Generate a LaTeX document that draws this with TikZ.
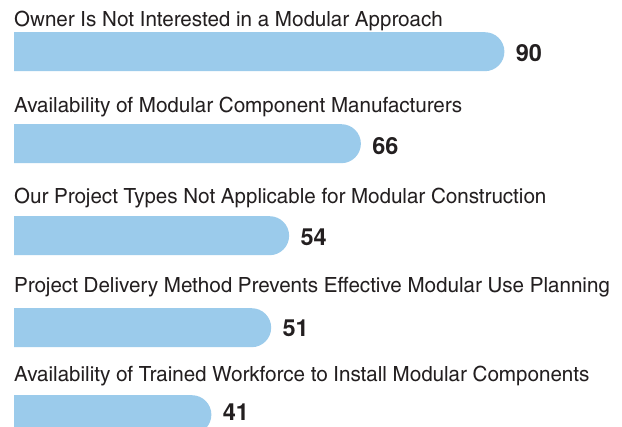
\documentclass[tikz,border=0pt]{standalone}
\usepackage{fontspec}
\setmainfont{TeX Gyre Heros}
\newfontfamily\condfont[FakeStretch=1.2]{TeX Gyre Heros Cn}
\definecolor{mybarblue}{RGB}{155,203,235}
\definecolor{mytextgray}{RGB}{35,31,32}
\usetikzlibrary{positioning,shapes.misc}

\begin{document}
\begin{tikzpicture}[
  x=1pt,
  y=-1pt,
  mybar/.style={
    fill=mybarblue,
    rounded rectangle,
    rounded rectangle left arc=none,
    minimum height=39pt,
    minimum width=#1,
    inner sep=0pt,
    anchor=north west
    },
  mytitle/.style={
    anchor=base west,
    inner sep=0pt,
    text=mytextgray,
    font=\condfont\fontsize{20.9}{24}\selectfont
    },
  myvalue/.style={
    right=11pt of #1,
    inner sep=0pt,
    text=mytextgray,
    font=\bfseries\fontsize{23.5}{26}\selectfont
    }
]

\clip (0,0) rectangle (622,427);
\useasboundingbox (0,0) rectangle (622,427);

\foreach \Val/\Top/\Base/\Shift/\Txt [count=\Vali from 1] in {
  90/32/27/-1.5/Owner Is Not Interested in a Modular Approach,
  66/124/113/-2/Availability of Modular Component Manufacturers,
  54/216/204/-1.5/Our Project Types Not Applicable for Modular Construction,
  51/308/293/-1/Project Delivery Method Prevents Effective Modular Use Planning,
  41/395/382/3/Availability of Trained Workforce to Install Modular Components
  }
{
  \pgfmathsetmacro\Len{5.98*\Val-48}
  \node[mytitle] (title\Vali) at (14,\Base) {\Txt};
  \node[mybar=\Len pt] (bar\Vali) at (14,\Top) {};
  \node[myvalue=bar\Vali, yshift=\Shift pt] (value\Vali) {\Val};
}
\end{tikzpicture}
\end{document}
